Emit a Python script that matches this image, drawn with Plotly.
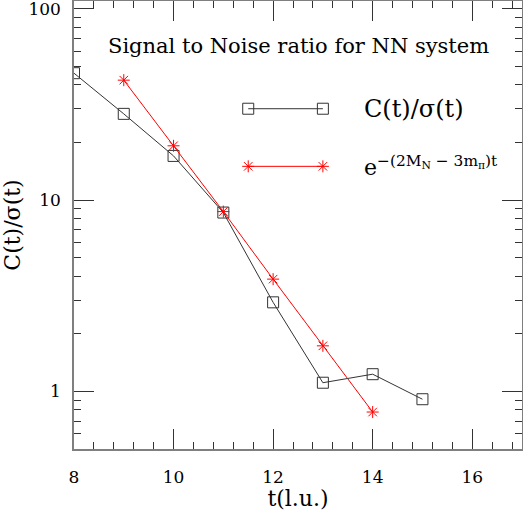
import plotly.graph_objects as go
import math

# data
t_data = [8, 9, 10, 11, 12, 13, 14, 15]
snr_data = [46, 28.2, 17, 8.6, 2.92, 1.11, 1.23, 0.91]

t_fit = [9, 10, 11, 12, 13, 14]
snr_fit = [42.3, 19.2, 8.7, 3.86, 1.73, 0.78]

# legend keys sit in data coordinates, as in the original plot
leg_x = [11.5, 13.0]
leg_y_data = [30, 30]
leg_y_fit = [15, 15]

FONT = "DejaVu Serif"
BLACK = "#333333"
FRAME = "#7f7f7f"

fig = go.Figure()

fig.add_trace(go.Scatter(
    x=t_data, y=snr_data, mode="lines+markers",
    line=dict(color=BLACK, width=1),
    marker=dict(symbol="square-open", size=11, color=BLACK, line=dict(width=1)),
    showlegend=False))

fig.add_trace(go.Scatter(
    x=t_fit, y=snr_fit, mode="lines+markers",
    line=dict(color="red", width=1),
    marker=dict(symbol="asterisk-open", size=10, color="red", line=dict(width=1, color="red")),
    showlegend=False))

fig.add_trace(go.Scatter(
    x=leg_x, y=leg_y_data, mode="lines+markers",
    line=dict(color=BLACK, width=1),
    marker=dict(symbol="square-open", size=11, color=BLACK, line=dict(width=1)),
    showlegend=False))

fig.add_trace(go.Scatter(
    x=leg_x, y=leg_y_fit, mode="lines+markers",
    line=dict(color="red", width=1),
    marker=dict(symbol="asterisk-open", size=10, color="red", line=dict(width=1, color="red")),
    showlegend=False))

fig.add_annotation(x=13.78, y=math.log10(30), text="C(t)/σ(t)", showarrow=False,
                   xanchor="left", yanchor="middle", font=dict(family=FONT, size=24, color="black"))
fig.add_annotation(x=13.78, y=math.log10(15), text="e<sup>−(2M<sub>N</sub> − 3m<sub>π</sub>)t</sup>",
                   showarrow=False, xanchor="left", yanchor="middle",
                   font=dict(family=FONT, size=22, color="black"))
fig.add_annotation(x=0.5, y=0.9, xref="paper", yref="paper", text="Signal to Noise ratio for NN system",
                   showarrow=False, xanchor="center", yanchor="middle",
                   font=dict(family=FONT, size=21, color="black"))

axis_common = dict(
    showgrid=False, zeroline=False, showline=True, linecolor=FRAME, linewidth=1.5,
    mirror="allticks", ticks="inside", ticklen=20, tickwidth=1, tickcolor=BLACK,
    tickfont=dict(family=FONT, size=17, color="black"), automargin=False,
    ticklabeloverflow="allow",
)

fig.update_xaxes(
    range=[8, 17], dtick=2, tick0=8, ticklabelstandoff=12,
    minor=dict(dtick=0.4, tick0=8, ticks="inside", ticklen=7, tickcolor=BLACK, tickwidth=1),
    title=dict(text="t(l.u.)", font=dict(family=FONT, size=22, color="black"), standoff=6),
    **axis_common)
fig.update_yaxes(
    type="log", range=[math.log10(0.5), 2.04], dtick=1, ticklabelstandoff=8,
    minor=dict(dtick="D1", ticks="inside", ticklen=7, tickcolor=BLACK, tickwidth=1),
    title=dict(text="C(t)/σ(t)", font=dict(family=FONT, size=22, color="black"), standoff=4),
    **axis_common)

fig.update_layout(
    width=523, height=511,
    margin=dict(l=74, r=1, t=1, b=62),
    paper_bgcolor="white", plot_bgcolor="white",
)

fig.write_html("out.html", config={"displayModeBar": False},
               post_script="document.body.style.margin='0';")
